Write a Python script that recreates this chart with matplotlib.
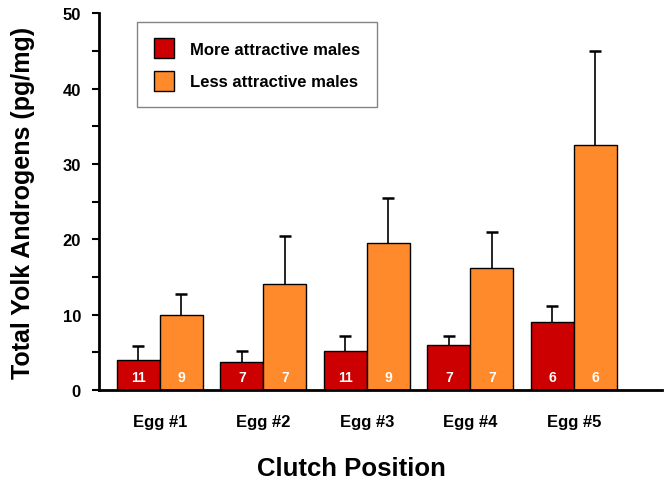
import numpy as np
import matplotlib
matplotlib.use("Agg")
import matplotlib.pyplot as plt

plt.rcParams['font.family'] = ['Liberation Sans', 'DejaVu Sans']
plt.rcParams['font.weight'] = 'bold'

# Data
eggs = ["Egg #1", "Egg #2", "Egg #3", "Egg #4", "Egg #5"]
more_mean = [4.0, 3.7, 5.2, 6.0, 9.0]
more_err = [1.9, 1.5, 2.0, 1.2, 2.1]
less_mean = [9.9, 14.1, 19.5, 16.2, 32.5]
less_err = [2.8, 6.3, 6.0, 4.8, 12.5]
more_n = [11, 7, 11, 7, 6]
less_n = [9, 7, 9, 7, 6]

red = "#CC0000"
orange = "#FF8A2B"

fig = plt.figure(figsize=(6.66, 4.85), dpi=100)
ax = fig.add_axes([0.1486, 0.1938, 0.845, 0.777])

x = np.arange(len(eggs))
w = 0.415

ax.bar(x - w / 2, more_mean, w, color=red, edgecolor="black", linewidth=1.0,
       label="More attractive males", zorder=2)
ax.bar(x + w / 2, less_mean, w, color=orange, edgecolor="black", linewidth=1.0,
       label="Less attractive males", zorder=2)

# upper error bars only (stem + cap)
for pos, m, e in [(x - w / 2, more_mean, more_err), (x + w / 2, less_mean, less_err)]:
    top = np.array(m) + np.array(e)
    ax.vlines(pos, m, top, color="black", linewidth=1.2, zorder=1)
    ax.plot(pos, top, linestyle="none", marker="_", markersize=8,
            markeredgewidth=1.8, color="black", zorder=1)

# sample sizes inside the bars
for i in range(len(eggs)):
    ax.text(x[i] - w / 2, 1.7, str(more_n[i]), color="white", ha="center",
            va="center", fontsize=10, fontweight="bold", zorder=3)
    ax.text(x[i] + w / 2, 1.7, str(less_n[i]), color="white", ha="center",
            va="center", fontsize=10, fontweight="bold", zorder=3)

ax.set_xlim(-0.589, 4.85)
ax.set_ylim(0, 50)
ax.set_xticks(x)
ax.set_xticklabels(eggs, fontsize=12, fontweight="bold")
ax.tick_params(axis="x", length=0, pad=17)
ax.set_yticks([0, 10, 20, 30, 40, 50])
ax.set_yticks([5, 15, 25, 35, 45], minor=True)
ax.tick_params(axis="y", which="both", direction="out", length=5, width=1.5,
               labelsize=12, pad=8)
for lab in ax.get_yticklabels():
    lab.set_fontweight("bold")

ax.spines["top"].set_visible(False)
ax.spines["right"].set_visible(False)
ax.spines["left"].set_linewidth(2)
ax.spines["bottom"].set_linewidth(2)

ax.set_ylabel("Total Yolk Androgens (pg/mg)", fontsize=18, fontweight="bold",
              labelpad=20)
ax.set_xlabel("Clutch Position", fontsize=18.5, fontweight="bold")
ax.xaxis.set_label_coords(0.448, -0.176)

leg = ax.legend(loc="upper left", bbox_to_anchor=(0.0675, 0.977), fontsize=12,
                frameon=True, fancybox=False, borderpad=1.0, labelspacing=0.75,
                handlelength=1.2, handleheight=1.45, handletextpad=1.0,
                borderaxespad=0)
leg.get_frame().set_edgecolor("#666666")
leg.get_frame().set_linewidth(1.0)

fig.savefig("out.png", dpi=100)
